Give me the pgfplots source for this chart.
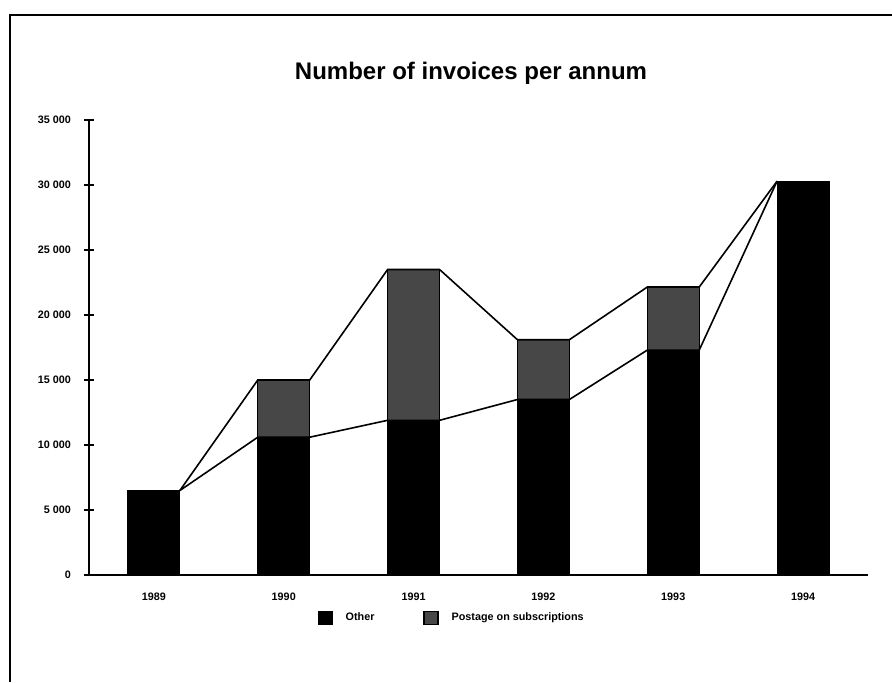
\documentclass[border=0pt]{standalone}
\usepackage{fontspec}
\setmainfont{Liberation Sans}
\usepackage{pgfplots}
\pgfplotsset{compat=1.18}
\begin{document}
\begin{tikzpicture}
\useasboundingbox (0,0) rectangle (446pt,341pt);
\draw[line width=1pt] (5pt,0) -- (5pt,333.5pt) -- (446pt,333.5pt);
\node[font=\bfseries\fontsize{12}{14}\selectfont] at (235.5pt,304.5pt) {Number of invoices per annum};
\begin{axis}[
  at={(44.5pt,53.5pt)}, anchor=south west,
  scale only axis, width=389.5pt, height=227.5pt,
  xmin=-0.5, xmax=5.5, ymin=0, ymax=35000,
  axis x line*=bottom, axis y line*=left,
  axis line style={line width=0.8pt},
  xtick={0,1,2,3,4,5},
  xticklabels={1989,1990,1991,1992,1993,1994},
  major x tick style={draw=none},
  extra x ticks={-0.5,0.5,1.5,2.5,3.5,4.5,5.5},
  extra x tick labels={},
  extra x tick style={major tick length=5pt, tick style={line width=0.8pt, black}},
  ytick={0,5000,10000,15000,20000,25000,30000,35000},
  tick align=center, major tick length=5pt,
  tick style={line width=0.8pt, black},
  scaled y ticks=false,
  /pgf/number format/assume math mode=true,
  /pgf/number format/1000 sep={\ },
  tick label style={font=\bfseries\fontsize{5.4}{6}\selectfont},
  yticklabel style={xshift=-3pt},
  xticklabel style={yshift=-3pt},
  legend style={draw=none, at={(0.467,-0.095)}, anchor=center,
    font=\bfseries\fontsize{5.4}{6}\selectfont, column sep=4.5pt,
    /tikz/every even column/.append style={column sep=22.5pt}},
  legend columns=2, reverse legend,
  legend image code/.code={\fill[#1] (0pt,-3pt) rectangle (7pt,3.5pt);},
]
\addplot[ybar, bar width=0.4, bar shift=0pt, fill=black!72, draw=black, line width=0.6pt]
  coordinates {(0,6500) (1,15000) (2,23500) (3,18100) (4,22150) (5,30300)};
\addlegendentry{Postage on subscriptions}
\addplot[ybar, bar width=0.4, bar shift=0pt, fill=black, draw=black]
  coordinates {(0,6500) (1,10600) (2,11900) (3,13500) (4,17300) (5,30300)};
\addlegendentry{Other}
\addplot[black, line width=0.8pt, mark=none, forget plot] coordinates {
  (0.2,6500) (0.8,15000) (1.2,15000) (1.8,23500) (2.2,23500) (2.8,18100)
  (3.2,18100) (3.8,22150) (4.2,22150) (4.8,30300)};
\addplot[black, line width=0.8pt, mark=none, forget plot] coordinates {
  (0.2,6500) (0.8,10600) (1.2,10600) (1.8,11900) (2.2,11900) (2.8,13500)
  (3.2,13500) (3.8,17300) (4.2,17300) (4.8,30300)};
\end{axis}
\end{tikzpicture}
\end{document}
